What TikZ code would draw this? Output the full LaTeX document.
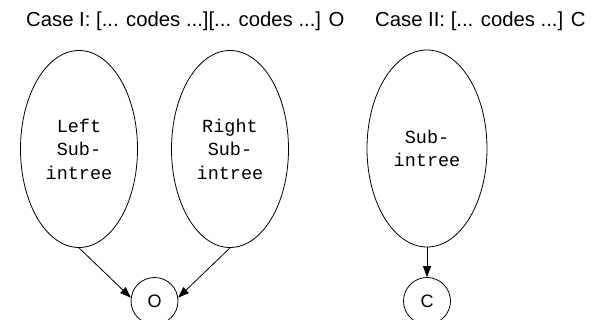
\documentclass[tikz,border=0pt]{standalone}
\usepackage{fontspec}
\setmainfont{Liberation Sans}
\newfontfamily\codefont{Liberation Mono}
\usetikzlibrary{shapes.geometric,arrows.meta}
\tikzset{
  subtree/.style={draw, ellipse, line width=0.8pt, inner sep=0pt,
    minimum width=117pt, minimum height=197pt, align=center,
    font=\codefont\fontsize{18.5}{23.5}\selectfont},
  leafnode/.style={draw, circle, line width=0.8pt, inner sep=0pt,
    minimum size=47pt, font=\fontsize{18}{22}\selectfont},
  caption/.style={anchor=base west, inner sep=0pt,
    font=\fontsize{20.3}{24}\selectfont},
  edge/.style={line width=0.8pt, -{Triangle[length=11pt,width=8pt]}}
}
\begin{document}
\begin{tikzpicture}[x=1pt,y=-1pt]
  \useasboundingbox (0,0) rectangle (596,320);

  % captions
  \node[caption] (t1) at (26,26.7) {Case I: [... codes ...][... codes ...] O};
  \node[caption] (t2) at (375,26.7) {Case II: [... codes ...] C};

  % case I: two subtrees joined by an operator
  \node[subtree] (L) at (79,149) {Left\\Sub-\\intree};
  \node[subtree] (R) at (230,149) {Right\\Sub-\\intree};
  \node[leafnode] (O) at (154.5,301) {O};
  \draw[edge] (L.south) -- (O.172);
  \draw[edge] (R.south) -- (O.8);

  % case II: one subtree with a closing node
  \node[subtree, minimum width=120pt] (S) at (427,148.5) {Sub-\\intree};
  \node[leafnode] (C) at (427,301) {C};
  \draw[edge] (S.south) -- (C.north);
\end{tikzpicture}
\end{document}
